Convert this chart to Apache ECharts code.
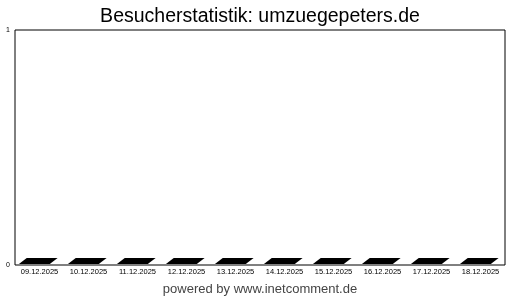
<!DOCTYPE html>
<html>
<head>
<meta charset="utf-8">
<script src="https://cdn.jsdelivr.net/npm/echarts@6/dist/echarts.min.js"></script>
<style>html,body{margin:0;padding:0;background:#fff}#c{width:520px;height:300px}</style>
</head>
<body>
<div id="c"></div>
<script>
const categories = ["09.12.2025","10.12.2025","11.12.2025","12.12.2025","13.12.2025","14.12.2025","15.12.2025","16.12.2025","17.12.2025","18.12.2025"];
const visitors = [0,0,0,0,0,0,0,0,0,0];
const yTicks = [0, 1];

const chart = echarts.init(document.getElementById('c'), null, {renderer: 'canvas'});
const FONT = 'Liberation Sans, Arial, sans-serif';
chart.setOption({
  animation: false,
  backgroundColor: '#fff',
  title: [{
    text: 'Besucherstatistik: umzuegepeters.de',
    left: 'center', top: 2,
    textStyle: {fontFamily: FONT, fontSize: 19.5, fontWeight: 'normal', color: '#000'}
  }, {
    text: 'powered by www.inetcomment.de',
    left: 'center', top: 278,
    textStyle: {fontFamily: FONT, fontSize: 13, fontWeight: 'normal', color: '#444'}
  }],
  grid: {left: 15, right: 15, top: 30, bottom: 35, show: true, borderColor: '#000', borderWidth: 1, backgroundColor: '#fff'},
  xAxis: {
    type: 'category', data: categories,
    axisLine: {show: false}, axisTick: {show: false}, splitLine: {show: false},
    axisLabel: {fontFamily: FONT, fontSize: 7.5, color: '#000', margin: 3, interval: 0}
  },
  yAxis: {
    type: 'value', min: yTicks[0], max: yTicks[yTicks.length - 1], interval: 1,
    axisLine: {show: false}, axisTick: {show: false}, splitLine: {show: false},
    axisLabel: {fontFamily: FONT, fontSize: 7, color: '#000', margin: 5}
  },
  series: [{
    type: 'custom',
    data: visitors.map((v, i) => [i, v]),
    renderItem: function (params, api) {
      const base = api.coord([api.value(0), 0]);
      const top = api.coord([api.value(0), api.value(1)]);
      const w = api.size([1, 0])[0];
      const cx = base[0], by = base[1] - 1, ty = top[1] - 1;
      const d = 6, off = w * 0.16;
      const bl = cx - w * 0.42, br = cx + w * 0.21;
      return {
        type: 'polygon',
        shape: {points: [[bl, by], [br, by], [br + off, ty - d], [bl + off, ty - d]]},
        style: {fill: '#000', stroke: null}
      };
    }
  }]
});
</script>
</body>
</html>
